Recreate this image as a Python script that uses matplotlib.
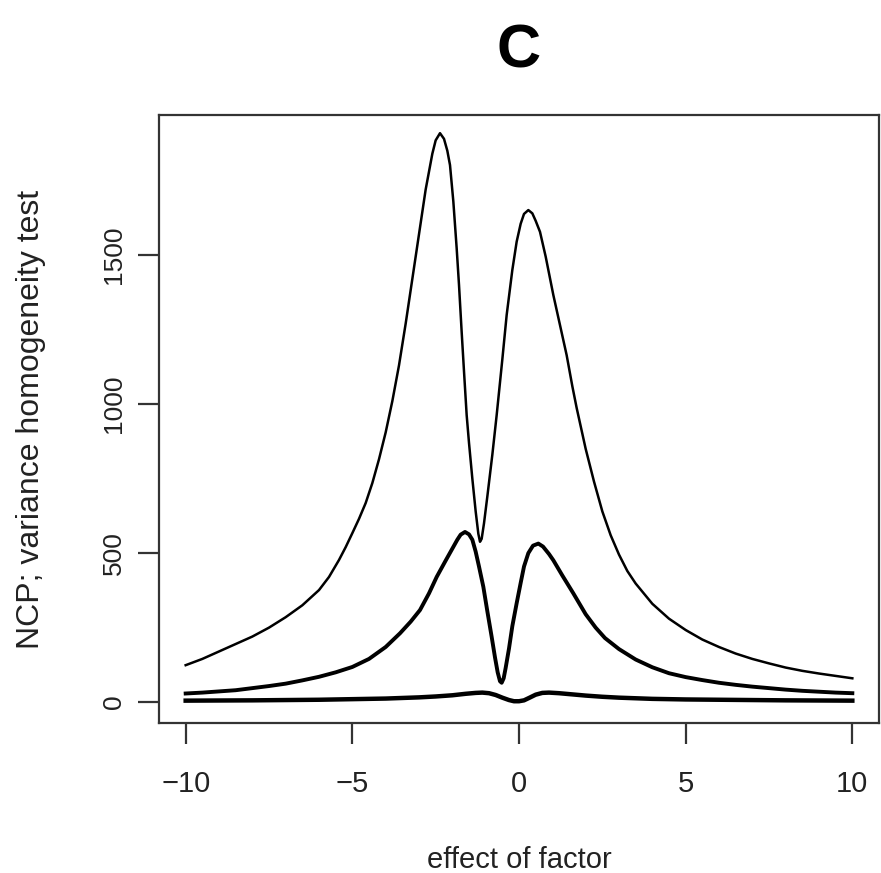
import matplotlib
matplotlib.use("Agg")
import matplotlib.pyplot as plt

plt.rcParams['font.family'] = ['Liberation Sans', 'DejaVu Sans']

# Upper (thin) curve
x_top = [-10, -9.5, -9, -8.5, -8, -7.5, -7, -6.5, -6, -5.7, -5.4, -5.2, -5, -4.8,
         -4.6, -4.4, -4.2, -4.0, -3.8, -3.6, -3.4, -3.2, -3.0, -2.8, -2.6, -2.5,
         -2.37, -2.25, -2.15, -2.07, -1.97, -1.87, -1.8, -1.72, -1.65, -1.57, -1.5,
         -1.4, -1.3, -1.22, -1.17, -1.12, -1.05, -0.95, -0.8, -0.67, -0.5, -0.37,
         -0.2, -0.07, 0.05, 0.15, 0.28, 0.4, 0.5, 0.63, 0.8, 1.03, 1.23, 1.43, 1.6,
         1.73, 2.0, 2.25, 2.5, 2.75, 3.0, 3.25, 3.5, 4.0, 4.5, 5, 5.5, 6, 6.5, 7, 7.5, 8,
         8.5, 9, 9.5, 10]
y_top = [124, 145, 170, 195, 220, 250, 285, 325, 376, 420, 477, 520, 567, 615,
         668, 735, 815, 905, 1010, 1130, 1270, 1420, 1570, 1720, 1840, 1885,
         1909, 1890, 1850, 1802, 1680, 1523, 1400, 1242, 1110, 963, 870,
         750, 640, 565, 538, 548, 600, 690, 830, 963, 1150, 1299,
         1450, 1545, 1605, 1638, 1651, 1640, 1615, 1578, 1495, 1366, 1265, 1164, 1060,
         987, 850, 740, 640, 560, 495, 440, 398, 330, 280, 242, 210, 185, 163, 145, 130, 116,
         105, 96, 88, 80]

# Middle (thick) curve
x_mid = [-10, -9.5, -9, -8.5, -8, -7.5, -7, -6.5, -6, -5.5, -5, -4.5, -4, -3.57,
         -3.25, -2.97, -2.7, -2.47, -2.2, -1.97, -1.85, -1.75, -1.62, -1.5, -1.4,
         -1.3, -1.2, -1.07, -0.95, -0.82, -0.72, -0.64, -0.57, -0.52, -0.46, -0.4,
         -0.3, -0.2, -0.07, 0.05, 0.15, 0.28, 0.42, 0.58, 0.72, 0.9, 1.03, 1.3, 1.63,
         2.0, 2.3, 2.58, 3.0, 3.5, 4.0, 4.5, 5, 5.5, 6, 6.5, 7, 7.5, 8, 8.5, 9, 9.5, 10]
y_mid = [29, 32, 36, 40, 47, 54, 62, 73, 85, 100, 118, 145, 185, 231,
         270, 309, 365, 420, 475, 521, 545, 562, 571, 563, 545,
         505, 455, 387, 305, 219, 150, 100, 70, 65, 80, 115,
         180, 255, 332, 400, 455, 500, 525, 532, 522, 497, 476, 425, 365,
         295, 250, 215, 178, 143, 117, 97, 84, 74, 65, 58, 52, 47, 42, 38, 35, 32, 30]

# Bottom (thick) curve
x_low = [-10, -8, -6, -5, -4, -3, -2.5, -2, -1.6, -1.3, -1.1, -0.9, -0.7, -0.5, -0.3,
         -0.15, 0, 0.15, 0.3, 0.5, 0.7, 0.9, 1.2, 1.6, 2, 2.5, 3, 4, 5, 6, 8, 10]
y_low = [5, 6, 8, 10, 12, 16, 19, 23, 28, 31, 32, 30, 24, 15, 7,
         3, 3, 6, 14, 25, 31, 32, 30, 26, 22, 18, 15, 11, 9, 8, 6, 5]

x_ticks = [-10, -5, 0, 5, 10]
y_ticks = [0, 500, 1000, 1500]

fig = plt.figure(figsize=(8.81, 8.73), dpi=100)
ax = fig.add_axes([159/881, 1 - 723/873, 720/881, 608/873])

ax.plot(x_top, y_top, color='black', lw=1.8, solid_joinstyle='round')
ax.plot(x_mid, y_mid, color='black', lw=2.8, solid_joinstyle='round')
ax.plot(x_low, y_low, color='black', lw=3.2, solid_joinstyle='round')

ax.set_xlim(-10.8, 10.8)
ax.set_ylim(-70, 1970)
ax.set_xticks(x_ticks)
ax.set_xticklabels(['\u221210', '\u22125', '0', '5', '10'])
ax.set_yticks(y_ticks)
ax.set_yticklabels([str(v) for v in y_ticks], rotation=90, va='center')

for s in ax.spines.values():
    s.set_linewidth(1.6)
    s.set_color('#333333')

ax.tick_params(axis='both', direction='out', length=15, width=1.6, color='#333333',
               labelcolor='#222222')
ax.tick_params(axis='x', pad=19, labelsize=21)
ax.tick_params(axis='y', pad=9, labelsize=19)

ax.set_xlabel('effect of factor', fontsize=21, color='#222222')
ax.xaxis.set_label_coords(0.5, (723 - 868) / 608)
ax.xaxis.label.set_va('baseline')
ax.set_ylabel('NCP; variance homogeneity test', fontsize=23, color='#222222')
ax.yaxis.set_label_coords((31 - 159) / 720, 0.5)
ax.yaxis.label.set_va('center')

ax.text(0.5, (723 - 68) / 608, 'C', transform=ax.transAxes, fontsize=44,
        fontweight='bold', ha='center', va='baseline')

fig.savefig('out.png', dpi=100)
